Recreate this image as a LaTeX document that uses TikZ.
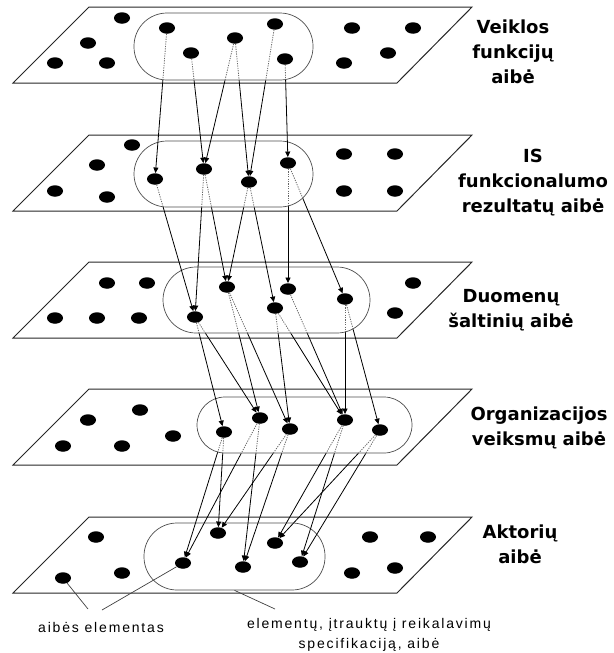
\documentclass[tikz,border=0pt]{standalone}
\usepackage{fontspec}
\setmainfont{Liberation Sans}
\newfontfamily\labelfont{DejaVu Sans}
\newfontfamily\notefont[LetterSpace=13]{Liberation Sans}
\usetikzlibrary{shapes.geometric,arrows.meta}

% links of one layer: dotted inside the source set, solid with a tip outside it
% #1 = source set node, #2 = its corner radius, #3 = list of source/target pairs
\newcommand\linklayer[3]{%
  \begin{scope}
    \clip[rounded corners=#2] (#1.north west) rectangle (#1.south east);
    \foreach \s/\t in {#3} \draw[linkin] (\s) -- (\t);
  \end{scope}
  \begin{scope}[even odd rule]
    \clip[rounded corners=#2] (-20,-20) rectangle (640,680)
      (#1.north west) rectangle (#1.south east);
    \foreach \s/\t in {#3} \draw[linkout] (\s) -- (\t);
  \end{scope}}

\begin{document}
\begin{tikzpicture}[x=1pt,y=-1pt,
  plane/.style={draw=black!85,line width=1pt,line join=miter},
  subset/.style={rectangle,draw=black!70,line width=0.7pt,inner sep=0pt},
  dot/.style={ellipse,fill=black,minimum width=16pt,minimum height=11.5pt,inner sep=0pt},
  linkin/.style={draw=black!60,line width=0.8pt,dash pattern=on 1.2pt off 1.2pt},
  linkout/.style={draw=black,line width=0.8pt,-{Triangle[length=5.5pt,width=5pt]}},
  setname/.style={font=\labelfont\bfseries\fontsize{18}{25}\selectfont,align=center,anchor=base},
  note/.style={font=\notefont\fontsize{14}{20}\selectfont,align=center,anchor=base},
  pointer/.style={draw=black!75,line width=0.7pt}]

\useasboundingbox (0,0) rectangle (613,653);

% the five planes
\foreach \t in {7,135,262,389,517}
  \draw[plane] (89,\t) -- (472,\t) -- (397,\t+76) -- (13,\t+76) -- cycle;

% the subsets that enter the specification
\node[subset,rounded corners=33pt,minimum width=179pt,minimum height=67pt] (S1) at (223.5,46.5) {};
\node[subset,rounded corners=33pt,minimum width=179pt,minimum height=66pt] (S2) at (223.5,174) {};
\node[subset,rounded corners=33pt,minimum width=207pt,minimum height=66pt] (S3) at (266.5,300) {};
\node[subset,rounded corners=28pt,minimum width=215pt,minimum height=56pt] (S4) at (304.5,425) {};
\node[subset,rounded corners=33pt,minimum width=181pt,minimum height=67pt] (S5) at (234.5,556.5) {};

% set elements
\foreach \n/\x/\y in {
  o1a/122/18, o1b/88/43, o1c/55/63, o1d/107/63, o1e/352/28, o1f/413/28, o1g/388/53, o1h/344/63,
  a1/167/28, a2/191/53, a3/235/38, a4/275/24, a5/285/59,
  o2a/132/145, o2b/97/165, o2c/55/191, o2d/107/197, o2e/344/154, o2f/395/154, o2g/344/191, o2h/395/191,
  b1/155/179, b2/204/169, b3/249/182, b4/288/163,
  o3a/107/283, o3b/147/283, o3c/55/318, o3d/97/318, o3e/139/318, o3f/413/283, o3g/395/313,
  c1/195/317, c2/227/287, c3/275/308, c4/288/289, c5/345/299,
  o4a/140/410, o4b/88/420, o4c/63/446, o4d/122/446, o4e/173/436,
  d1/224/432, d2/260/418, d3/290/429, d4/345/420, d5/380/430,
  o5a/96/537, o5b/63/578, o5c/122/573, o5d/370/537, o5e/428/537, o5f/352/573, o5g/395/568,
  e1/183/563, e2/218/533, e3/243/567, e4/275/543, e5/300/562}
  \node[dot] (\n) at (\x,\y) {};

% links between consecutive sets
\linklayer{S1}{33pt}{a1/b1, a2/b2, a3/b2, a3/b3, a4/b3, a5/b4}
\linklayer{S2}{33pt}{b1/c1, b2/c1, b2/c2, b3/c2, b3/c3, b4/c4, b4/c5}
\linklayer{S3}{33pt}{c1/d1, c1/d2, c2/d2, c2/d3, c3/d3, c3/d4, c4/d4, c5/d4, c5/d5}
\linklayer{S4}{28pt}{d1/e1, d1/e2, d2/e1, d2/e3, d3/e2, d3/e3, d4/e4, d4/e5, d5/e4, d5/e5}

% set names (base = baseline of the last line)
\node[setname] (lab1) at (513,83) {Veiklos\\funkcijų\\aibė};
\node[setname] (lab2) at (533,212) {IS\\funkcionalumo\\rezultatų aibė};
\node[setname] (lab3) at (511,327) {Duomenų\\šaltinių aibė};
\node[setname] (lab4) at (539,445) {Organizacijos\\veiksmų aibė};
\node[setname] (lab5) at (520,563) {Aktorių\\aibė};

% explanations
\node[note] (n1) at (101,632) {aibės elementas};
\node[note] (n2) at (369,648) {elementų, įtrauktų į reikalavimų\\specifikaciją, aibė};
\coordinate (q1) at (88,609);
\coordinate (q2) at (102,610);
\coordinate (q3) at (275,609);
\draw[pointer] (o5b) -- (q1);
\draw[pointer] (e1) -- (q2);
\draw[pointer] (S5.south) -- (q3);
\end{tikzpicture}
\end{document}
